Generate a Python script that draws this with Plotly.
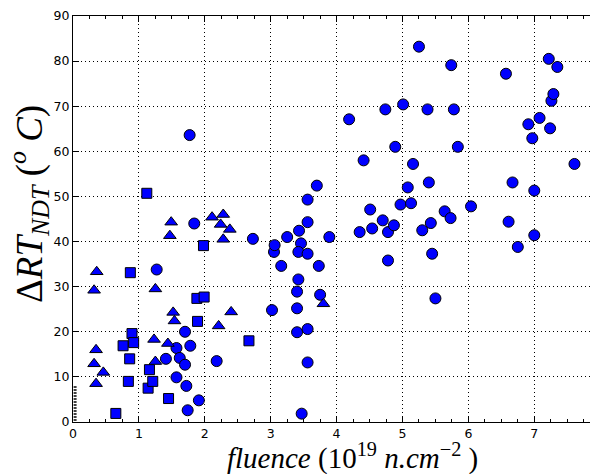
import plotly.graph_objects as go

# ---- data ----
circle_x = [1.27, 1.84, 1.77, 2.73, 1.70, 1.78, 1.57, 1.41, 1.62, 1.70, 1.57, 1.72, 1.74, 1.91, 2.18,
            3.02, 3.05, 3.06, 3.16, 3.25, 3.43, 3.46, 3.42, 3.56, 3.42, 3.40, 3.40, 3.40, 3.56, 3.56,
            3.47, 3.75, 3.73, 3.56, 3.56, 3.70, 3.89, 4.19, 4.41, 4.35, 4.54, 4.51, 4.70, 4.78, 4.87,
            4.78, 4.97, 5.13, 5.08, 5.16, 4.89, 4.74, 5.01, 5.38, 5.25, 5.74, 5.78, 5.84, 5.40, 5.30,
            5.43, 5.45, 5.50, 5.64, 5.73, 6.04, 6.57, 6.61, 6.67, 6.75, 7.00, 7.00, 6.97, 6.91, 7.08,
            7.24, 7.26, 7.29, 7.22, 7.35, 7.61]
circle_y = [33.8, 44.0, 63.6, 40.6, 20.0, 16.9, 16.4, 14.0, 14.2, 12.7, 9.9, 8.0, 2.6, 4.8, 13.5,
            24.8, 37.7, 39.2, 34.6, 41.0, 42.4, 39.6, 37.7, 37.3, 31.6, 28.9, 25.2, 19.9, 20.6, 13.2,
            1.85, 28.2, 34.6, 44.3, 49.3, 52.4, 41.0, 67.1, 58.0, 42.1, 42.9, 47.1, 44.7, 42.1, 43.6,
            35.8, 48.2, 48.5, 52.0, 57.2, 61.0, 69.3, 70.4, 69.3, 83.2, 79.1, 69.3, 61.0, 53.1, 42.5,
            44.1, 37.3, 27.4, 46.7, 45.2, 47.8, 77.2, 44.4, 53.1, 38.8, 51.3, 41.4, 62.9, 66.0, 67.4,
            65.1, 71.2, 72.7, 80.5, 78.7, 57.2]

square_x = [1.12, 0.87, 1.98, 1.88, 1.99, 1.89, 2.67, 0.895, 0.76, 0.92, 0.86, 0.84, 0.65, 1.16,
            1.14, 1.21, 1.45]
square_y = [50.7, 33.1, 39.1, 27.4, 27.7, 22.3, 18.0, 19.6, 16.9, 17.6, 14.0, 9.0, 1.9, 11.6,
            7.5, 9.0, 5.2]

triangle_x = [0.36, 0.32, 0.35, 0.32, 0.35, 0.46, 1.25, 1.23, 1.25, 1.44, 1.52, 1.54, 1.47, 1.49,
              2.11, 2.28, 2.24, 2.38, 2.28, 2.21, 2.40, 3.80]
triangle_y = [33.3, 29.2, 16.0, 12.9, 8.5, 11.0, 29.5, 18.3, 13.4, 17.4, 24.3, 22.4, 41.3, 44.3,
              45.4, 46.0, 43.8, 42.7, 40.5, 21.3, 24.4, 26.2]

x_ticks = [0, 1, 2, 3, 4, 5, 6, 7]
y_ticks = [0, 10, 20, 30, 40, 50, 60, 70, 80, 90]

# ---- figure ----
fig = go.Figure()
marker_line = dict(color="black", width=1)
fig.add_trace(go.Scatter(x=circle_x, y=circle_y, mode="markers",
                         marker=dict(symbol="circle", size=11, color="#0000FF", line=marker_line)))
fig.add_trace(go.Scatter(x=square_x, y=square_y, mode="markers",
                         marker=dict(symbol="square", size=10, color="#0000FF", line=marker_line)))
fig.add_trace(go.Scatter(x=triangle_x, y=triangle_y, mode="markers",
                         marker=dict(symbol="triangle-up", size=11, color="#0000FF", line=marker_line)))

tickfont = dict(family="DejaVu Sans", size=12.5, color="black")

# the page body has an 8px margin, so the figure is 8px smaller than the window
fig.update_layout(
    width=590, height=466,
    margin=dict(l=65, r=0, t=6, b=52),
    paper_bgcolor="white", plot_bgcolor="white",
    showlegend=False,
    xaxis=dict(range=[0, 7.967], tickvals=x_ticks, ticktext=[str(v) for v in x_ticks],
               ticks="inside", ticklen=6, tickcolor="black", tickwidth=1,
               minor=dict(dtick=0.25, ticks="inside", ticklen=3, tickcolor="black", showgrid=False),
               showline=True, linecolor="black", linewidth=1, mirror="allticks",
               showgrid=True, gridcolor="black", gridwidth=1, griddash="1px,3px",
               zeroline=False, tickfont=tickfont),
    yaxis=dict(range=[0, 90], tickvals=y_ticks, ticktext=[str(v) for v in y_ticks],
               ticks="inside", ticklen=6, tickcolor="black", tickwidth=1,
               showline=True, linecolor="black", linewidth=1, mirror=False,
               showgrid=True, gridcolor="black", gridwidth=1, griddash="1px,3px",
               zeroline=False, tickfont=tickfont, ticklabeloverflow="allow"),
    annotations=[
        dict(text="<i>fluence</i> (10<sup>19</sup> <i>n.cm</i><sup>−2</sup> )",
             xref="paper", yref="paper", x=0.532, y=-0.084, xanchor="center", yanchor="middle",
             showarrow=False, font=dict(family="Liberation Serif", size=29, color="black")),
        dict(text="Δ<i>RT</i><sub><i>NDT</i></sub> (<sup><i>o</i></sup> <i>C</i>)",
             xref="paper", yref="paper", x=0, xshift=-44, y=0.537, xanchor="center", yanchor="middle",
             textangle=-90, showarrow=False,
             font=dict(family="Liberation Serif", size=37, color="black")),
        dict(text="8", xref="paper", yref="paper", x=1.004, y=0, yshift=-10,
             xanchor="center", yanchor="middle", showarrow=False, font=tickfont),
    ],
    shapes=[
        dict(type="line", xref="paper", yref="y", x0=0.004, x1=0.004, y0=0.3, y1=8,
             line=dict(color="black", width=3, dash="1.5px,1.5px")),
    ],
)

fig.write_html("out.html")
